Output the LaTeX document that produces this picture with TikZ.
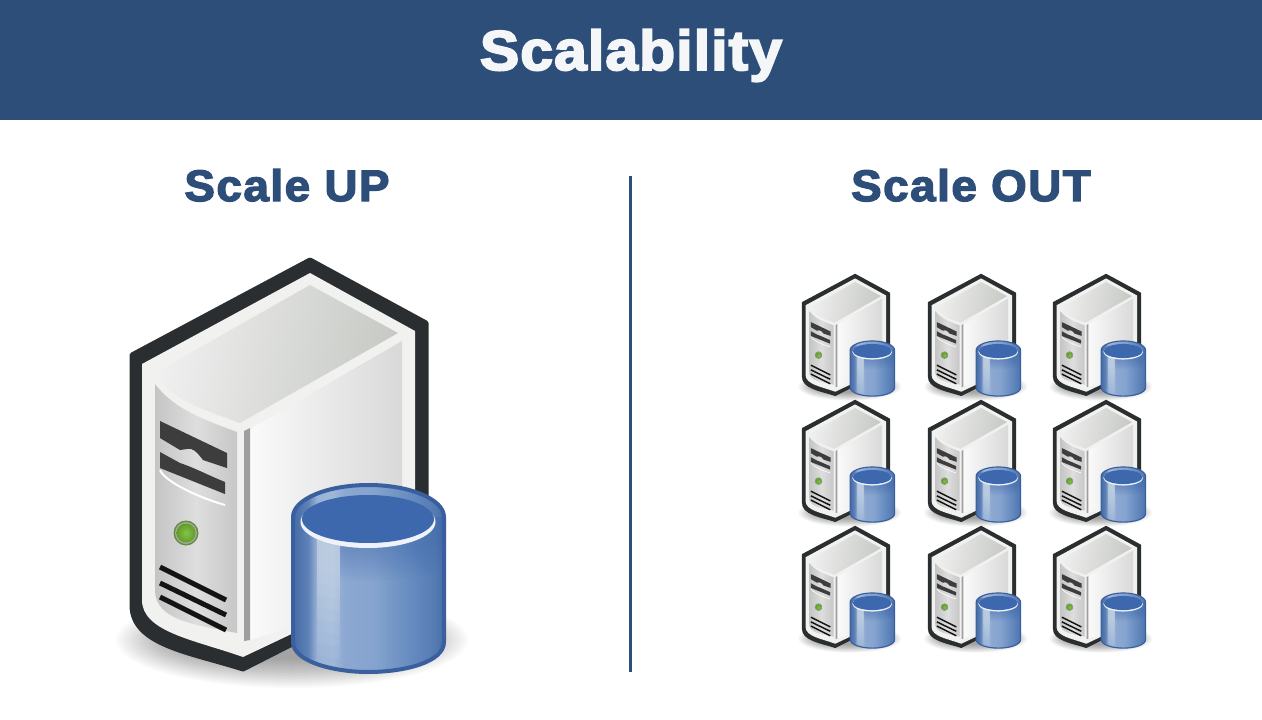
\documentclass[tikz,border=0pt]{standalone}
\usepackage{fontspec}
\setmainfont{Liberation Sans}
\newfontfamily\titlefont[FakeBold=3.5,FakeStretch=1.05,LetterSpace=2]{Liberation Sans Bold}
\newfontfamily\headfont[FakeBold=3,FakeStretch=1.04,LetterSpace=3.5]{Liberation Sans Bold}
\definecolor{navy}{HTML}{2C4E78}
\definecolor{casedark}{HTML}{2A2E31}
\definecolor{caselight}{HTML}{F1F2EF}
\definecolor{cylline}{HTML}{3A5F9E}
\definecolor{cyltop}{HTML}{3E68AE}
\definecolor{topface}{HTML}{C6C9C4}
\definecolor{ledgreen}{HTML}{72B82C}
\definecolor{ledring}{HTML}{5E8F38}
\pgfdeclarehorizontalshading{cylbody}{100bp}{
  rgb(0bp)=(.27,.42,.65);rgb(25bp)=(.27,.42,.65);rgb(30bp)=(.37,.51,.72);rgb(33bp)=(.60,.70,.84);rgb(38bp)=(.62,.72,.85);rgb(42bp)=(.55,.66,.82);
  rgb(52bp)=(.52,.64,.81);rgb(66bp)=(.38,.53,.74);rgb(72bp)=(.33,.48,.70);rgb(75bp)=(.28,.43,.66);rgb(100bp)=(.28,.43,.66)}
\tikzset{
  headline/.style={text=navy,font=\headfont\fontsize{44}{46}\selectfont,inner sep=0pt,anchor=base},
  dividerline/.style={draw=navy,line width=3pt},
  bannerbox/.style={fill=navy,draw=none},
  slotshape/.style={fill=black!76,draw=none},
  ventline/.style={draw=black!92,line cap=butt},
}
% #1 x of left edge, #2 y of top, #3 scale
\newcommand{\dbserver}[3]{%
\begin{scope}[shift={(#1,#2)},scale=#3,shift={(-130,-258)}]
  \foreach \k in {0,...,19}{
    \fill[black,fill opacity=.02] (292,640) ellipse ({176-3.2*\k} and {48-1.5*\k});
  }
  % case outline
  \fill[casedark,draw=casedark,line width=#3*5pt,line join=round]
    (310,260) -- (426,323) -- (426,580) -- (300,640) -- (243,669)
    .. controls (190,652) and (132,645) .. (132,605) -- (132,355) -- cycle;
  % light rim
  \fill[caselight]
    (310,273) -- (415,331) -- (415,590) -- (300,630) -- (243,657)
    .. controls (195,640) and (142,632) .. (142,600) -- (142,364) -- cycle;
  % top face
  \shade[left color=white!94!black,right color=topface,shading angle=80]
    (310,285) -- (398,333) -- (240,423)
    .. controls (205,410) and (170,400) .. (155,373) -- cycle;
  % side face
  \shade[left color=white!98!black,right color=black!15]
    (250,429) -- (402,341) -- (402,600) -- (300,625) -- (250,640) -- cycle;
  \fill[black!38] (244,431) -- (250,428) -- (250,640) -- (244,641) -- cycle;
  % front panel
  \shade[left color=black!23,right color=black!22,middle color=black!13]
    (155,384) .. controls (175,410) and (205,420) .. (237,432)
    -- (237,633) .. controls (195,625) and (155,620) .. (155,590) -- cycle;
  % drive slots
  \draw[white,line width=#3*2pt] (160,470) .. controls (165,482) and (200,498) .. (225,505);
  \fill[slotshape]
    (160,421) -- (227,453) -- (227,468) -- (203,460) .. controls (197,452) and (192,447) .. (187,449)
    -- (180,450) -- (160,438) -- cycle;
  \fill[slotshape]
    (160,452) -- (180,463) .. controls (195,468) and (210,476) .. (225,482) -- (225,494) -- (160,468) -- cycle;
  % LED
  \fill[ledring] (186,533) circle (12.5);
  \fill[black!35] (186,533) circle (11);
  \shade[inner color=ledgreen!85!white,outer color=ledgreen!85!black] (186,533) circle (9.5);
  % vents
  \draw[ventline,line width=#3*5pt] (160,567) -- (226,600);
  \draw[ventline,line width=#3*5pt] (160,583) -- (226,615);
  \draw[ventline,line width=#3*5pt] (160,597) -- (226,630);
  % cylinder
  \shade[shading=cylbody]
    (293,517) -- (293,642) .. controls (293,662) and (335,672) .. (368,672)
    .. controls (405,672) and (444,662) .. (444,642) -- (444,517)
    arc[start angle=0,end angle=-180,x radius=75.5,y radius=32] -- cycle;
  % darker band under the rim, fading downward
  \foreach \d in {0,4,...,28}{
    \fill[cyltop,fill opacity=.05]
      (340,530) -- (444,517) -- (444,{540+\d}) .. controls (425,{552+\d}) and (385,{553+\d}) .. (340,{552+\d}) -- cycle;
  }
  % highlight, fading downward
  \foreach \d in {0,12,...,84}{
    \fill[white,fill opacity=.05] (317,535) -- (340,540) -- (340,{575+\d}) -- (317,{570+\d}) -- cycle;
  }
  \draw[cylline,line width=#3*4pt]
    (293,517) -- (293,642) .. controls (293,662) and (335,672) .. (368,672)
    .. controls (405,672) and (444,662) .. (444,642) -- (444,517)
    arc[start angle=0,end angle=-180,x radius=75.5,y radius=32] -- cycle;
  % rim and mouth
  \fill[white!92!cyltop] (368,522) ellipse (67.5 and 26);
  \fill[cyltop] (368,519) ellipse (66 and 24);
\end{scope}}
\begin{document}
\begin{tikzpicture}[x=1pt,y=-1pt]
  \useasboundingbox (0,0) rectangle (1262,720);
  \fill[white] (0,0) rectangle (1262,720);
  \fill[bannerbox] (0,0) rectangle (1262,120);
  \node[text=white!95!navy,font=\titlefont\fontsize{56}{58}\selectfont,inner sep=0pt,anchor=base] (title) at (631,70) {Scalability};
  \node[headline] (up) at (287,201) {Scale UP};
  \node[headline] (out) at (971,201) {Scale OUT};
  \coordinate (divtop) at (630,176);
  \coordinate (divbot) at (630,672);
  \draw[dividerline] (divtop) -- (divbot);
  \dbserver{130}{258}{1}
  \foreach \yy in {274,400,526}{
    \foreach \xx in {802,928,1053}{
      \dbserver{\xx}{\yy}{.295}
    }
  }
\end{tikzpicture}
\end{document}
